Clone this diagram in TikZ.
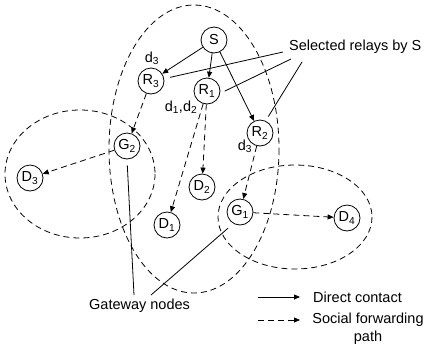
\documentclass[tikz,border=0pt]{standalone}
\usepackage{fontspec}
\setmainfont{Liberation Sans}
\usetikzlibrary{arrows.meta}
\newcommand{\mysub}[1]{\textsubscript{#1}}
\begin{document}
\begin{tikzpicture}[x=1pt,y=-1pt,
  font=\fontsize{14.5}{18}\selectfont,
  nd/.style={circle,draw,line width=0.8pt,minimum size=26pt,inner sep=0pt},
  direct/.style={line width=0.8pt,-{Triangle[length=6pt,width=5pt]}},
  social/.style={line width=0.8pt,dash pattern=on 6pt off 4pt,-{Triangle[length=6pt,width=5pt]}},
  grp/.style={line width=0.8pt,dash pattern=on 6pt off 4pt},
  pointer/.style={line width=0.8pt},
  lbl/.style={inner sep=0pt}]
\useasboundingbox (0,0) rectangle (427,354);
% groups
\draw[grp] (194,149) ellipse [x radius=85, y radius=144];
\draw[grp] (80,174) ellipse [x radius=75, y radius=64];
\draw[grp] (295,217) ellipse [x radius=77, y radius=52];
% nodes
\node[nd] (S) at (214,40) {S};
\node[nd] (R3) at (151,81) {R\mysub{3}};
\node[nd] (R1) at (207,91) {R\mysub{1}};
\node[nd] (R2) at (260,133) {R\mysub{2}};
\node[nd] (G2) at (127,146) {G\mysub{2}};
\node[nd] (D3) at (30,178) {D\mysub{3}};
\node[nd] (D2) at (202,187) {D\mysub{2}};
\node[nd] (D1) at (167,225) {D\mysub{1}};
\node[nd] (G1) at (240,212) {G\mysub{1}};
\node[nd] (D4) at (347,218) {D\mysub{4}};
% labels
\node[lbl] (l3a) at (152,58) {d\mysub{3}};
\node[lbl] (l12) at (181,107) {d\mysub{1},d\mysub{2}};
\node[lbl] (l3b) at (245,146) {d\mysub{3}};
% connectors
\draw[direct] (S) -- (R3);
\draw[direct] (S) -- (R1);
\draw[direct] (S) -- (R2);
\draw[social] (R3) -- (G2);
\draw[social] (R1) -- (D2);
\draw[social] (R1) -- (D1);
\draw[social] (R2) -- (G1);
\draw[social] (G2) -- (D3);
\draw[social] (G1) -- (D4);
% selected relays
\node[lbl,anchor=west] (sel) at (289,47) {Selected relays by S};
\coordinate (s1) at (283,52);
\coordinate (s2) at (291,59);
\coordinate (s3) at (302,62);
\draw[pointer,shorten >=6pt] (s1) -- (R3.10);
\draw[pointer,shorten >=5pt] (s2) -- (R1.-10);
\draw[pointer,shorten >=5pt] (s3) -- (R2.65);
% gateway nodes
\node[lbl,anchor=west] (gw) at (89,306) {Gateway nodes};
\coordinate (g1) at (134,295);
\coordinate (g2) at (151,295);
\draw[pointer,shorten >=6pt] (g1) -- (G2.south);
\draw[pointer,shorten >=7pt] (g2) -- (G1.-120);
% legend
\coordinate (la1) at (258,297);
\coordinate (lb1) at (300,297);
\coordinate (la2) at (258,320);
\coordinate (lb2) at (300,320);
\draw[direct] (la1) -- (lb1);
\draw[social] (la2) -- (lb2);
\node[lbl,anchor=west] (ldc) at (313,297) {Direct contact};
\node[lbl,align=center] (lsf) at (368,329) {Social forwarding\\path};
\end{tikzpicture}
\end{document}
